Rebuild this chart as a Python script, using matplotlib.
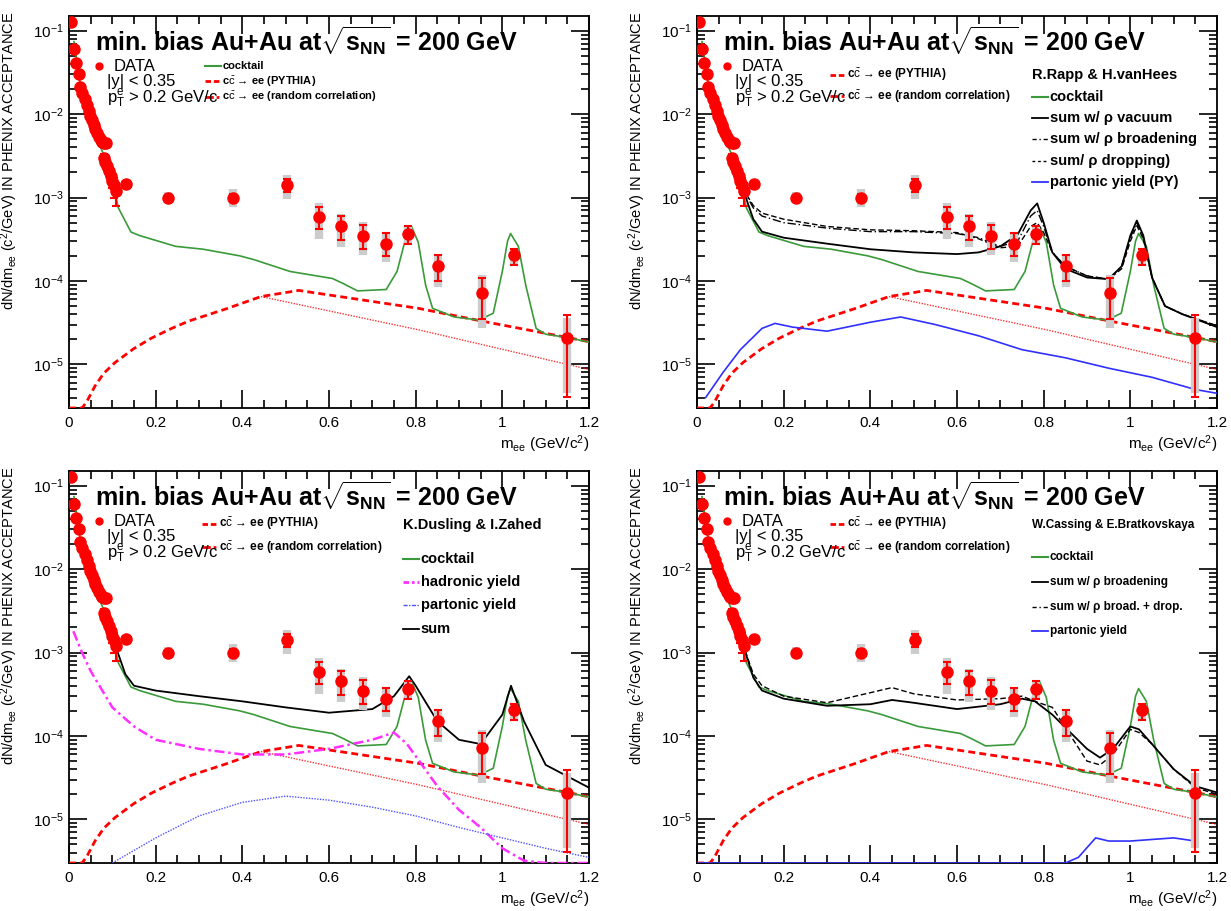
import numpy as np
import matplotlib
matplotlib.use("Agg")
import matplotlib.pyplot as plt
from matplotlib.ticker import LogLocator, MultipleLocator, NullFormatter

plt.rcParams['font.family'] = ['Liberation Sans', 'DejaVu Sans']
plt.rcParams['mathtext.fontset'] = 'custom'
plt.rcParams['mathtext.rm'] = 'Liberation Sans'
plt.rcParams['mathtext.it'] = 'Liberation Sans:italic'
plt.rcParams['mathtext.bf'] = 'Liberation Sans:bold'

# ---------------- data ----------------
YMIN, YMAX = 3e-6, 0.15

# low-mass data points
lm_x = [0.005, 0.0115, 0.016, 0.022, 0.026, 0.031, 0.036, 0.041, 0.045, 0.049, 0.053,
        0.057, 0.061, 0.065, 0.069, 0.073, 0.077, 0.081, 0.085, 0.080, 0.084, 0.088,
        0.092, 0.096, 0.100, 0.104, 0.108]
lm_y = [0.126, 0.061, 0.041, 0.030, 0.021, 0.018, 0.015, 0.013, 0.011, 0.0095, 0.0085,
        0.0075, 0.0066, 0.0059, 0.0053, 0.0049, 0.0046, 0.0045, 0.0045, 0.0030, 0.0027,
        0.0024, 0.0021, 0.0018, 0.0016, 0.0014, 0.0012]
lm_hi = [0.13, 0.063, 0.042, 0.031, 0.022, 0.019, 0.0155, 0.0135, 0.0114, 0.0098, 0.0088,
         0.0078, 0.0069, 0.0062, 0.0056, 0.0052, 0.0049, 0.0048, 0.0050, 0.0033, 0.0030,
         0.0027, 0.0024, 0.0021, 0.0019, 0.0017, 0.0015]
lm_lo = [0.122, 0.059, 0.040, 0.029, 0.020, 0.017, 0.0145, 0.0125, 0.0106, 0.0092, 0.0082,
         0.0072, 0.0063, 0.0056, 0.0050, 0.0046, 0.0043, 0.0042, 0.0040, 0.0027, 0.0024,
         0.0021, 0.0018, 0.0015, 0.0013, 0.0010, 0.0008]

# higher-mass data points
hm_x = [0.131, 0.228, 0.378, 0.503, 0.578, 0.628, 0.678, 0.732, 0.783, 0.852, 0.953, 1.027, 1.15]
hm_y = [1.46e-3, 1.0e-3, 1.0e-3, 1.41e-3, 5.9e-4, 4.5e-4, 3.5e-4, 2.8e-4, 3.7e-4, 1.5e-4, 7.1e-5, 2.07e-4, 2.05e-5]
stat_hi = [1.55e-3, 1.05e-3, 1.1e-3, 1.67e-3, 7.7e-4, 6.0e-4, 4.7e-4, 3.75e-4, 4.5e-4, 2.07e-4, 1.09e-4, 2.43e-4, 3.9e-5]
stat_lo = [1.38e-3, 0.95e-3, 0.9e-3, 1.18e-3, 4.2e-4, 3.06e-4, 2.39e-4, 2.0e-4, 2.8e-4, 1.0e-4, 3.5e-5, 1.57e-4, 4.1e-6]
sys_hi = [1.6e-3, 1.15e-3, 1.25e-3, 1.86e-3, 8.6e-4, 6.4e-4, 5.07e-4, 3.86e-4, 4.6e-4, 2.1e-4, 1.17e-4, 2.45e-4, 3.6e-5]
sys_lo = [1.33e-3, 0.85e-3, 0.78e-3, 9.6e-4, 3.2e-4, 2.55e-4, 2.03e-4, 1.69e-4, 2.7e-4, 8.5e-5, 2.7e-5, 1.55e-4, 4.5e-6]

# cocktail
ck_x = [0.0115, 0.025, 0.041, 0.064, 0.087, 0.105, 0.114, 0.143, 0.163, 0.246, 0.31, 0.394,
        0.427, 0.51, 0.608, 0.633, 0.666, 0.732, 0.757, 0.773, 0.783, 0.79, 0.806, 0.823,
        0.839, 0.889, 0.946, 0.979, 1.0, 1.012, 1.019, 1.037, 1.054, 1.078, 1.1, 1.15, 1.2]
ck_y = [0.074, 0.0245, 0.0118, 5.1e-3, 2.7e-3, 1.2e-3, 7.5e-4, 3.86e-4, 3.5e-4, 2.6e-4, 2.4e-4,
        2.0e-4, 1.8e-4, 1.3e-4, 1.07e-4, 9.3e-5, 7.6e-5, 7.9e-5, 1.3e-4, 2.7e-4, 4.4e-4, 4.55e-4,
        2.9e-4, 8.9e-5, 4.7e-5, 3.7e-5, 3.4e-5, 4.1e-5, 1.3e-4, 3.0e-4, 3.7e-4, 2.6e-4, 8.9e-5,
        2.7e-5, 2.3e-5, 2.1e-5, 1.85e-5]

# charm: PYTHIA and random correlation
py_x = [0.0, 0.03, 0.04, 0.06, 0.08, 0.106, 0.15, 0.19, 0.237, 0.276, 0.361, 0.443, 0.53, 0.806, 0.953, 1.15, 1.2]
py_y = [0.0, 0.0, 3.5e-6, 5.5e-6, 7.8e-6, 1.05e-5, 1.55e-5, 2.06e-5, 2.7e-5, 3.3e-5, 4.6e-5, 6.5e-5, 7.7e-5, 4.7e-5, 3.3e-5, 2.1e-5, 1.87e-5]
rc_x = [0.443, 0.806, 1.2]
rc_y = [6.5e-5, 2.6e-5, 8.7e-6]

# Rapp & van Hees
rv_x = [0.105, 0.13, 0.15, 0.2, 0.3, 0.4, 0.5, 0.6, 0.65, 0.7, 0.74, 0.77, 0.785, 0.8, 0.82,
        0.85, 0.9, 0.95, 0.98, 1.0, 1.015, 1.03, 1.05, 1.08, 1.12, 1.2]
rv_vac = [1.3e-3, 5.5e-4, 3.9e-4, 3.3e-4, 2.8e-4, 2.4e-4, 2.2e-4, 2.1e-4, 2.2e-4, 2.6e-4, 3.6e-4,
          7.0e-4, 8.5e-4, 5.0e-4, 2.2e-4, 1.4e-4, 1.1e-4, 1.05e-4, 1.5e-4, 3.5e-4, 5.3e-4, 3.5e-4,
          1.1e-4, 5.0e-5, 4.0e-5, 2.8e-5]
rv_brd = [1.3e-3, 7.5e-4, 6.0e-4, 5.0e-4, 4.3e-4, 3.9e-4, 3.9e-4, 3.7e-4, 3.3e-4, 2.6e-4, 3.0e-4,
          6.0e-4, 7.0e-4, 4.5e-4, 2.2e-4, 1.5e-4, 1.15e-4, 1.05e-4, 1.5e-4, 3.3e-4, 5.0e-4, 3.3e-4,
          1.1e-4, 5.0e-5, 4.0e-5, 2.9e-5]
rv_drp = [1.3e-3, 8.0e-4, 6.5e-4, 5.5e-4, 4.5e-4, 4.1e-4, 4.0e-4, 3.8e-4, 3.2e-4, 2.5e-4, 2.6e-4,
          4.5e-4, 5.0e-4, 3.8e-4, 2.2e-4, 1.5e-4, 1.15e-4, 1.05e-4, 1.4e-4, 3.0e-4, 4.6e-4, 3.2e-4,
          1.1e-4, 5.0e-5, 4.0e-5, 2.9e-5]
rv_px = [0.02, 0.06, 0.1, 0.15, 0.18, 0.22, 0.3, 0.4, 0.47, 0.55, 0.65, 0.75, 0.85, 0.95, 1.05, 1.15, 1.2]
rv_py = [4e-6, 8e-6, 1.5e-5, 2.7e-5, 3.1e-5, 2.8e-5, 2.5e-5, 3.2e-5, 3.7e-5, 3.0e-5, 2.2e-5,
         1.5e-5, 1.2e-5, 9e-6, 7e-6, 5e-6, 4.5e-6]

# Dusling & Zahed
dz_hx = [0.01, 0.03, 0.05, 0.1, 0.15, 0.2, 0.3, 0.4, 0.5, 0.6, 0.7, 0.75, 0.78, 0.85, 0.9, 0.95, 1.0, 1.05, 1.1, 1.2]
dz_hy = [1.8e-3, 1.0e-3, 6e-4, 2.2e-4, 1.3e-4, 9e-5, 7e-5, 6e-5, 6e-5, 7e-5, 9e-5, 1.1e-4,
         8e-5, 2.5e-5, 1.3e-5, 8e-6, 4.5e-6, 3.2e-6, 2.9e-6, 2.8e-6]
dz_px = [0.1, 0.2, 0.3, 0.4, 0.5, 0.6, 0.7, 0.8, 0.9, 1.0, 1.1, 1.2]
dz_py = [3e-6, 6e-6, 1.1e-5, 1.6e-5, 1.9e-5, 1.7e-5, 1.4e-5, 1.1e-5, 8e-6, 6e-6, 4.5e-6, 3.5e-6]
dz_sx = [0.105, 0.13, 0.15, 0.2, 0.3, 0.4, 0.5, 0.6, 0.7, 0.75, 0.785, 0.8, 0.85, 0.9, 0.95,
         1.0, 1.02, 1.05, 1.1, 1.2]
dz_sy = [1.3e-3, 5.5e-4, 4e-4, 3.5e-4, 3e-4, 2.6e-4, 2.2e-4, 1.9e-4, 2.1e-4, 3e-4, 5.2e-4,
         4e-4, 1.5e-4, 9e-5, 8e-5, 1.8e-4, 4e-4, 1.5e-4, 4.5e-5, 2.4e-5]

# Cassing & Bratkovskaya
cb_x = [0.105, 0.13, 0.15, 0.2, 0.3, 0.4, 0.45, 0.5, 0.6, 0.7, 0.75, 0.78, 0.82, 0.9, 0.93,
        0.96, 1.0, 1.02, 1.05, 1.1, 1.15, 1.2]
cb_brd = [1.3e-3, 5e-4, 3.5e-4, 2.8e-4, 2.3e-4, 2.4e-4, 2.7e-4, 2.5e-4, 2.1e-4, 2.4e-4, 2.8e-4,
          2.6e-4, 1.8e-4, 7e-5, 5.5e-5, 7e-5, 1.3e-4, 1.2e-4, 8e-5, 4e-5, 2.5e-5, 2.1e-5]
cb_drp = [1.3e-3, 5.5e-4, 4e-4, 3e-4, 2.5e-4, 3.3e-4, 3.8e-4, 3.2e-4, 2.7e-4, 2.8e-4, 3.0e-4,
          2.6e-4, 2.2e-4, 5e-5, 4.5e-5, 6e-5, 1.2e-4, 1.1e-4, 8e-5, 4e-5, 2.4e-5, 2e-5]
cb_px = [0.0, 0.85, 0.88, 0.92, 0.95, 1.0, 1.1, 1.15]
cb_py = [1e-6, 1e-6, 3.5e-6, 6e-6, 5.5e-6, 5.5e-6, 6e-6, 5.5e-6]

TITLE = r"min. bias Au+Au at$\mathbf{\sqrt{s_{NN}}}$ = 200 GeV"
YLABEL = r"dN/dm$_{\mathrm{ee}}$ (c$^{2}$/GeV) IN PHENIX ACCEPTANCE"
XLABEL = r"m$_{\mathrm{ee}}$ (GeV/c$^{2}$)"
CC = r"c$\mathrm{\bar{c}}$"

GREEN = '#3a9a3a'
RED = '#ff0000'
BLUE = '#3030ff'
MAG = '#ff30ff'


def clipy(v):
    return np.clip(np.asarray(v, float), YMIN, None)


fig = plt.figure(figsize=(12.31, 9.11), dpi=100)
W, H = 1231.0, 911.0
axw, axh = 520 / W, 392 / H
lefts = [69 / W, 697 / W]
bottoms = [(H - 408) / H, (H - 863) / H]
axes = [fig.add_axes([lefts[c], bottoms[r], axw, axh]) for r in range(2) for c in range(2)]


def base(ax):
    ax.set_yscale('log')
    ax.set_xlim(0, 1.2)
    ax.set_ylim(YMIN, YMAX)
    ax.xaxis.set_major_locator(MultipleLocator(0.2))
    ax.xaxis.set_minor_locator(MultipleLocator(0.05))
    ax.yaxis.set_major_locator(LogLocator(base=10, numticks=20))
    ax.yaxis.set_minor_locator(LogLocator(base=10, subs=np.arange(2, 10), numticks=50))
    ax.yaxis.set_minor_formatter(NullFormatter())
    ax.xaxis.set_major_formatter(plt.FuncFormatter(lambda v, p: ('%g' % v)))
    ax.tick_params(which='both', direction='in', top=True, right=True, width=1.2, labelsize=11)
    ax.tick_params(which='major', length=13)
    ax.tick_params(which='minor', length=6)
    ax.tick_params(axis='x', pad=6)
    for s in ax.spines.values():
        s.set_linewidth(1.3)
    ax.set_ylabel(YLABEL, fontsize=10.5, loc='top')
    ax.yaxis.set_label_coords(-0.094, 1.01)
    ax.set_xlabel(XLABEL, fontsize=11, loc='right', labelpad=2)
    ax.text(0.05, 0.935, TITLE, transform=ax.transAxes, fontsize=18, fontweight='bold',
            va='center', ha='left')


def common_curves(ax):
    ax.plot(py_x, clipy(py_y), color=RED, lw=2.0, ls=(0, (2.5, 1.5)), zorder=3)
    ax.plot(rc_x, rc_y, color=RED, lw=1.0, ls=(0, (1, 1)), alpha=0.8, zorder=3)
    ax.plot(ck_x, ck_y, color=GREEN, lw=1.2, zorder=4)


def data(ax):
    ax.vlines(hm_x, sys_lo, sys_hi, color='#cccccc', lw=6, zorder=5)
    yerr = [np.array(hm_y) - np.array(stat_lo), np.array(stat_hi) - np.array(hm_y)]
    ax.errorbar(hm_x, hm_y, yerr=yerr, fmt='o', color=RED, ms=8, mec=RED,
                elinewidth=1.5, capsize=3, capthick=1.5, zorder=7)
    lyerr = [np.array(lm_y) - np.array(lm_lo), np.array(lm_hi) - np.array(lm_y)]
    ax.errorbar(lm_x, lm_y, yerr=lyerr, fmt='o', color=RED, ms=8, mec=RED,
                elinewidth=1.5, capsize=3, capthick=1.5, zorder=6)


def leg_line(ax, x, y, **kw):
    ax.plot([x, x + 0.03], [y, y], transform=ax.transAxes, clip_on=False, **kw)


def data_legend(ax):
    ax.plot([0.057], [0.872], 'o', color=RED, ms=5, transform=ax.transAxes)
    ax.text(0.085, 0.872, "DATA", transform=ax.transAxes, fontsize=12, va='center')
    ax.text(0.074, 0.832, "|y| < 0.35", transform=ax.transAxes, fontsize=12, va='center')
    ax.text(0.074, 0.788, r"p$_{\mathrm{T}}^{\mathrm{e}}$ > 0.2 GeV/c", transform=ax.transAxes,
            fontsize=12, va='center')


def charm_legend(ax, x, y1, y2, fs=8):
    leg_line(ax, x, y1, color=RED, lw=2, ls=(0, (2, 1)))
    ax.text(x + 0.033, y1, CC + " → ee (PYTHIA)", transform=ax.transAxes, fontsize=fs,
            va='center', fontweight='bold')
    leg_line(ax, x, y2, color=RED, lw=2, ls=(0, (3, 1, 1, 1)))
    ax.text(x + 0.033, y2, CC + " → ee (random correlation)", transform=ax.transAxes,
            fontsize=fs, va='center', fontweight='bold')


# ---- panel 1 ----
ax = axes[0]
base(ax)
common_curves(ax)
data(ax)
data_legend(ax)
leg_line(ax, 0.262, 0.873, color=GREEN, lw=1.5)
ax.text(0.295, 0.873, "cocktail", transform=ax.transAxes, fontsize=8, va='center', fontweight='bold')
charm_legend(ax, 0.262, 0.833, 0.793)

# ---- panel 2 ----
ax = axes[1]
base(ax)
common_curves(ax)
ax.plot(rv_px, rv_py, color=BLUE, lw=1.2, zorder=4)
ax.plot(rv_x, rv_vac, color='black', lw=1.3, zorder=4)
ax.plot(rv_x, rv_brd, color='black', lw=1.0, ls=(0, (6, 2, 1, 2)), zorder=4)
ax.plot(rv_x, rv_drp, color='black', lw=1.0, ls=(0, (4, 2)), zorder=4)
data(ax)
data_legend(ax)
charm_legend(ax, 0.255, 0.85, 0.795, fs=8.5)
ax.text(0.645, 0.85, "R.Rapp & H.vanHees", transform=ax.transAxes, fontsize=10.5, va='center',
        fontweight='bold')
items = [("cocktail", dict(color=GREEN, lw=1.5)),
         ("sum w/ ρ vacuum", dict(color='black', lw=1.3)),
         ("sum w/ ρ broadening", dict(color='black', lw=1.0, ls=(0, (3, 2, 1, 2)))),
         ("sum/ ρ dropping)", dict(color='black', lw=1.0, ls=(0, (2, 2)))),
         ("partonic yield (PY)", dict(color=BLUE, lw=1.3))]
for i, (t, kw) in enumerate(items):
    y = 0.793 - i * 0.054
    leg_line(ax, 0.645, y, **kw)
    ax.text(0.678, y, t, transform=ax.transAxes, fontsize=10.5, va='center', fontweight='bold')

# ---- panel 3 ----
ax = axes[2]
base(ax)
common_curves(ax)
ax.plot(dz_hx, clipy(dz_hy), color=MAG, lw=1.8, ls=(0, (4, 1.5, 1, 1.5)), zorder=4)
ax.plot(dz_px, clipy(dz_py), color='#5050ff', lw=1.0, ls=(0, (1, 1)), zorder=4)
ax.plot(dz_sx, dz_sy, color='black', lw=1.3, zorder=4)
data(ax)
data_legend(ax)
charm_legend(ax, 0.255, 0.866, 0.805, fs=8.5)
ax.text(0.643, 0.862, "K.Dusling & I.Zahed", transform=ax.transAxes, fontsize=10.5, va='center',
        fontweight='bold')
items = [("cocktail", dict(color=GREEN, lw=1.5)),
         ("hadronic yield", dict(color=MAG, lw=2, ls=(0, (2, 1, 1, 1)))),
         ("partonic yield", dict(color='#5050ff', lw=1.0, ls=(0, (3, 1, 1, 1)))),
         ("sum", dict(color='black', lw=1.3))]
for i, (t, kw) in enumerate(items):
    y = 0.775 - i * 0.059
    leg_line(ax, 0.643, y, **kw)
    ax.text(0.676, y, t, transform=ax.transAxes, fontsize=10.5, va='center', fontweight='bold')

# ---- panel 4 ----
ax = axes[3]
base(ax)
common_curves(ax)
ax.plot(cb_px, clipy(cb_py), color=BLUE, lw=1.2, zorder=4)
ax.plot(cb_x, cb_brd, color='black', lw=1.3, zorder=4)
ax.plot(cb_x, cb_drp, color='black', lw=1.0, ls=(0, (4, 2)), zorder=4)
data(ax)
data_legend(ax)
charm_legend(ax, 0.255, 0.866, 0.805, fs=8.5)
ax.text(0.645, 0.862, "W.Cassing & E.Bratkovskaya", transform=ax.transAxes, fontsize=8.5,
        va='center', fontweight='bold')
items = [("cocktail", dict(color=GREEN, lw=1.5)),
         ("sum w/ ρ broadening", dict(color='black', lw=1.3)),
         ("sum w/ ρ broad. + drop.", dict(color='black', lw=1.0, ls=(0, (3, 2, 1, 2)))),
         ("partonic yield", dict(color=BLUE, lw=1.3))]
for i, (t, kw) in enumerate(items):
    y = 0.78 - i * 0.063
    leg_line(ax, 0.645, y, **kw)
    ax.text(0.678, y, t, transform=ax.transAxes, fontsize=8.5, va='center', fontweight='bold')

fig.savefig("out.png", dpi=100)
